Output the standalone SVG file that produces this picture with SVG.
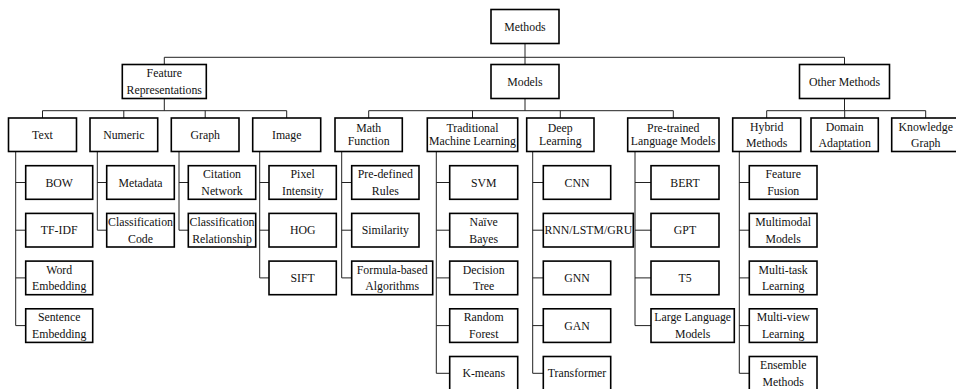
<svg xmlns="http://www.w3.org/2000/svg" width="956" height="389" viewBox="0 0 956 389">
<style>
rect{fill:#fff;stroke:#000;stroke-width:1.6}
text{font-family:"Liberation Serif","Times New Roman",serif;font-size:11.8px;fill:#111;text-anchor:middle}
#connectors path{fill:none;stroke:#222;stroke-width:1}
</style>
<rect x="0" y="0" width="956" height="389" style="fill:#fff;stroke:none"/>
<g id="connectors">
<path d="M525 43.5V57.3M164.3 64.5V57.3H844.5V64.5M525 57.3V64.5"/>
<path d="M164.3 98.5V110.7M42.5 118V110.7H286.7V118M123.8 110.7V118M205.2 110.7V118"/>
<path d="M525 98.5V110.7M368.7 118V110.7H673.3V118M472.5 110.7V118M560.3 110.7V118"/>
<path d="M844.5 98.5V110.7M766.7 118V110.7H925.7V118M844.7 110.7V118"/>
<path d="M15.7 151.5V325.6H25.7M15.7 182.5H25.7M15.7 230.2H25.7M15.7 277.9H25.7"/>
<path d="M97.3 151.5V230.2H106.7M97.3 182.5H106.7"/>
<path d="M179 151.5V230.2H188.3M179 182.5H188.3"/>
<path d="M259.7 151.5V277.9H269M259.7 182.5H269M259.7 230.2H269"/>
<path d="M341.7 151.5V277.9H351.7M341.7 182.5H351.7M341.7 230.2H351.7"/>
<path d="M436.3 151.5V373.3H449.7M436.3 182.5H449.7M436.3 230.2H449.7M436.3 277.9H449.7M436.3 325.6H449.7"/>
<path d="M532.7 151.5V373.3H543.3M532.7 182.5H543.3M532.7 230.2H543.3M532.7 277.9H543.3M532.7 325.6H543.3"/>
<path d="M635 151.5V325.6H651M635 182.5H651M635 230.2H651M635 277.9H651"/>
<path d="M739.3 151.5V373.3H749.3M739.3 182.5H749.3M739.3 230.2H749.3M739.3 277.9H749.3M739.3 325.6H749.3"/>
</g>
<g id="methods"><rect x="491" y="9.5" width="68" height="34"/><text x="525" y="30.5">Methods</text></g>
<g id="feature-representations"><rect x="122.3" y="64.5" width="84" height="34"/><text x="164.3" y="77">Feature</text><text x="164.3" y="94">Representations</text></g>
<g id="models"><rect x="491" y="64.5" width="68" height="34"/><text x="525" y="85.5">Models</text></g>
<g id="other-methods"><rect x="799.5" y="64.5" width="90" height="34"/><text x="844.5" y="85.5">Other Methods</text></g>
<g id="text"><rect x="8.5" y="118" width="68" height="33.5"/><text x="42.5" y="138.8">Text</text></g>
<g id="numeric"><rect x="90" y="118" width="67.7" height="33.5"/><text x="123.8" y="138.8">Numeric</text></g>
<g id="graph"><rect x="171.3" y="118" width="67.7" height="33.5"/><text x="205.2" y="138.8">Graph</text></g>
<g id="image"><rect x="252.7" y="118" width="68" height="33.5"/><text x="286.7" y="138.8">Image</text></g>
<g id="math-function"><rect x="335" y="118" width="67.3" height="33.5"/><text x="368.7" y="132.3">Math</text><text x="368.7" y="145.3">Function</text></g>
<g id="traditional-ml"><rect x="427.3" y="118" width="90.4" height="33.5"/><text x="472.5" y="132.3">Traditional</text><text x="472.5" y="145.3">Machine Learning</text></g>
<g id="deep-learning"><rect x="526.7" y="118" width="67.3" height="33.5"/><text x="560.3" y="132.3">Deep</text><text x="560.3" y="145.3">Learning</text></g>
<g id="pretrained-lm"><rect x="627.7" y="118" width="91.3" height="33.5"/><text x="673.3" y="132.3">Pre-trained</text><text x="673.3" y="145.3">Language Models</text></g>
<g id="hybrid-methods"><rect x="732.7" y="118" width="68" height="33.5"/><text x="766.7" y="130.5">Hybrid</text><text x="766.7" y="147.2">Methods</text></g>
<g id="domain-adaptation"><rect x="811" y="118" width="67.3" height="33.5"/><text x="844.7" y="130.5">Domain</text><text x="844.7" y="147.2">Adaptation</text></g>
<g id="knowledge-graph"><rect x="891.7" y="118" width="68" height="33.5"/><text x="925.7" y="130.5">Knowledge</text><text x="925.7" y="147.2">Graph</text></g>
<g id="bow"><rect x="25.7" y="165.7" width="67" height="33.6"/><text x="59.2" y="186.5">BOW</text></g>
<g id="tf-idf"><rect x="25.7" y="213.4" width="67" height="33.6"/><text x="59.2" y="234.2">TF-IDF</text></g>
<g id="word-embedding"><rect x="25.7" y="261.1" width="67" height="33.6"/><text x="59.2" y="273.6">Word</text><text x="59.2" y="290.2">Embedding</text></g>
<g id="sentence-embedding"><rect x="25.7" y="308.8" width="67" height="33.6"/><text x="59.2" y="321.3">Sentence</text><text x="59.2" y="337.9">Embedding</text></g>
<g id="metadata"><rect x="106.7" y="165.7" width="67.6" height="33.6"/><text x="140.5" y="186.5">Metadata</text></g>
<g id="classification-code"><rect x="106.7" y="213.4" width="67.6" height="33.6"/><text x="140.5" y="225.9">Classification</text><text x="140.5" y="242.5">Code</text></g>
<g id="citation-network"><rect x="188.3" y="165.7" width="67.4" height="33.6"/><text x="222" y="178.2">Citation</text><text x="222" y="194.8">Network</text></g>
<g id="classification-relationship"><rect x="188.3" y="213.4" width="67.4" height="33.6"/><text x="222" y="225.9">Classification</text><text x="222" y="242.5">Relationship</text></g>
<g id="pixel-intensity"><rect x="269" y="165.7" width="67.3" height="33.6"/><text x="302.7" y="178.2">Pixel</text><text x="302.7" y="194.8">Intensity</text></g>
<g id="hog"><rect x="269" y="213.4" width="67.3" height="33.6"/><text x="302.7" y="234.2">HOG</text></g>
<g id="sift"><rect x="269" y="261.1" width="67.3" height="33.6"/><text x="302.7" y="281.9">SIFT</text></g>
<g id="predefined-rules"><rect x="351.7" y="165.7" width="67.3" height="33.6"/><text x="385.3" y="178.2">Pre-defined</text><text x="385.3" y="194.8">Rules</text></g>
<g id="similarity"><rect x="351.7" y="213.4" width="67.3" height="33.6"/><text x="385.3" y="234.2">Similarity</text></g>
<g id="formula-based"><rect x="351.7" y="261.1" width="81" height="33.6"/><text x="392.2" y="273.6">Formula-based</text><text x="392.2" y="290.2">Algorithms</text></g>
<g id="svm"><rect x="449.7" y="165.7" width="68" height="33.6"/><text x="483.7" y="186.5">SVM</text></g>
<g id="naive-bayes"><rect x="449.7" y="213.4" width="68" height="33.6"/><text x="483.7" y="225.9">Naïve</text><text x="483.7" y="242.5">Bayes</text></g>
<g id="decision-tree"><rect x="449.7" y="261.1" width="68" height="33.6"/><text x="483.7" y="273.6">Decision</text><text x="483.7" y="290.2">Tree</text></g>
<g id="random-forest"><rect x="449.7" y="308.8" width="68" height="33.6"/><text x="483.7" y="321.3">Random</text><text x="483.7" y="337.9">Forest</text></g>
<g id="k-means"><rect x="449.7" y="356.5" width="68" height="33.6"/><text x="483.7" y="377.3">K-means</text></g>
<g id="cnn"><rect x="543.3" y="165.7" width="67.4" height="33.6"/><text x="577" y="186.5">CNN</text></g>
<g id="rnn"><rect x="543.3" y="213.4" width="90" height="33.6"/><text x="588.3" y="234.2">RNN/LSTM/GRU</text></g>
<g id="gnn"><rect x="543.3" y="261.1" width="67.4" height="33.6"/><text x="577" y="281.9">GNN</text></g>
<g id="gan"><rect x="543.3" y="308.8" width="67.4" height="33.6"/><text x="577" y="329.6">GAN</text></g>
<g id="transformer"><rect x="543.3" y="356.5" width="67.4" height="33.6"/><text x="577" y="377.3">Transformer</text></g>
<g id="bert"><rect x="651" y="165.7" width="68" height="33.6"/><text x="685" y="186.5">BERT</text></g>
<g id="gpt"><rect x="651" y="213.4" width="68" height="33.6"/><text x="685" y="234.2">GPT</text></g>
<g id="t5"><rect x="651" y="261.1" width="68" height="33.6"/><text x="685" y="281.9">T5</text></g>
<g id="llm"><rect x="651" y="308.8" width="83.3" height="33.6"/><text x="692.7" y="321.3">Large Language</text><text x="692.7" y="337.9">Models</text></g>
<g id="feature-fusion"><rect x="749.3" y="165.7" width="67.7" height="33.6"/><text x="783.2" y="178.2">Feature</text><text x="783.2" y="194.8">Fusion</text></g>
<g id="multimodal-models"><rect x="749.3" y="213.4" width="67.7" height="33.6"/><text x="783.2" y="225.9">Multimodal</text><text x="783.2" y="242.5">Models</text></g>
<g id="multi-task"><rect x="749.3" y="261.1" width="67.7" height="33.6"/><text x="783.2" y="273.6">Multi-task</text><text x="783.2" y="290.2">Learning</text></g>
<g id="multi-view"><rect x="749.3" y="308.8" width="67.7" height="33.6"/><text x="783.2" y="321.3">Multi-view</text><text x="783.2" y="337.9">Learning</text></g>
<g id="ensemble-methods"><rect x="749.3" y="356.5" width="67.7" height="33.6"/><text x="783.2" y="369">Ensemble</text><text x="783.2" y="385.6">Methods</text></g>
</svg>
